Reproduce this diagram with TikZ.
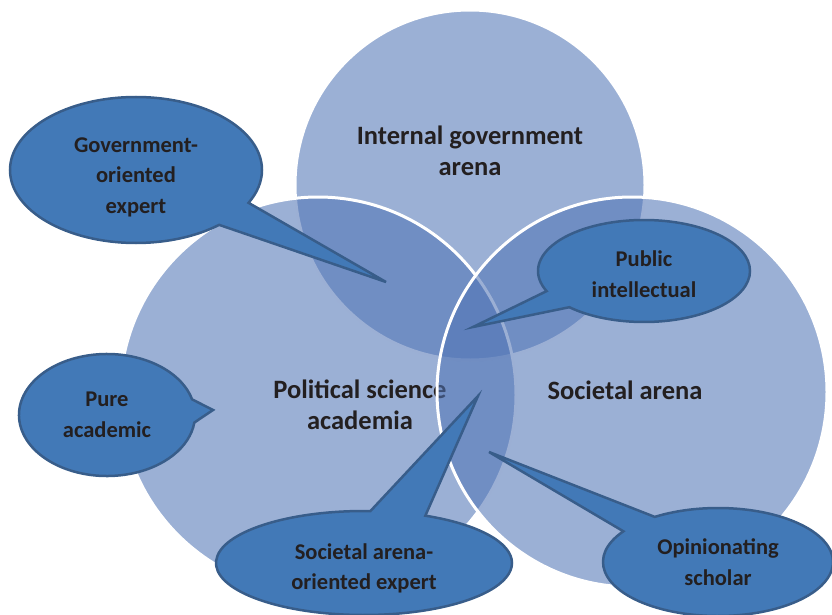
\documentclass[tikz,border=0pt]{standalone}
\usepackage{fontspec}
\setmainfont{Carlito}
\usetikzlibrary{shapes.callouts}
\definecolor{arenablue}{RGB}{80,116,181}
\definecolor{bubbleblue}{RGB}{66,121,183}
\definecolor{bubbleedge}{RGB}{56,93,138}
\definecolor{labeltext}{RGB}{35,31,32}

\begin{document}
\begin{tikzpicture}[x=10pt,y=10pt]
                    \tikzstyle{every node}+=[inner sep=0pt, text=labeltext, align=center]
                    \tikzstyle{arena}=[fill=arenablue, fill opacity=0.57, draw=white, line width=3pt]
                    \tikzstyle{arenatext}=[font=\fontsize{26.5}{31}\selectfont\bfseries]
                    \tikzstyle{bubble}=[ellipse callout, callout pointer arc=22, fill=bubbleblue, draw=bubbleedge, line width=2.5pt, font=\fontsize{22.5}{30.5}\selectfont\bfseries]
                    \useasboundingbox (0,0) rectangle (83.2,-61.5);
                    % the three arenas
                    \draw [arena] (47.0,-18.5) circle (17.5);
                    \node [arenatext] (intlab) at (47.0,-15.1) {Internal government\\arena};
                    \draw [arena] (31.8,-39.5) circle (19.8);
                    \node [arenatext] (polilab) at (36.0,-40.5) {Political science\\academia};
                    \draw [arena] (63.2,-39.2) circle (19.5);
                    \node [arenatext] (soclab) at (62.5,-39.0) {Societal arena};
                    % roles
                    \coordinate (govtip) at (38.6,-28.2);
                    \coordinate (pubtip) at (47.3,-32.7);
                    \coordinate (puretip) at (21.3,-41.0);
                    \coordinate (socexptip) at (47.8,-39.6);
                    \coordinate (opintip) at (48.9,-45.2);
                    \node [bubble, minimum width=252pt, minimum height=146pt, callout absolute pointer={(govtip)}] (gov) at (13.6,-17.0) {\rule{0pt}{29pt}Government-\\oriented\\expert};
                    \node [bubble, minimum width=212pt, minimum height=102pt, callout absolute pointer={(pubtip)}] (pub) at (64.4,-27.1) {\rule{0pt}{22pt}Public\\intellectual};
                    \node [bubble, minimum width=176pt, minimum height=122pt, callout absolute pointer={(puretip)}] (pure) at (10.7,-41.5) {Pure\\academic};
                    \node [bubble, minimum width=296pt, minimum height=104pt, callout absolute pointer={(socexptip)}] (socexp) at (36.4,-56.3) {\rule{0pt}{27pt}Societal arena-\\oriented expert};
                    \node [bubble, minimum width=230pt, minimum height=108pt, callout absolute pointer={(opintip)}] (opin) at (71.8,-56.2) {Opinionating\\scholar};
\end{tikzpicture}
\end{document}
